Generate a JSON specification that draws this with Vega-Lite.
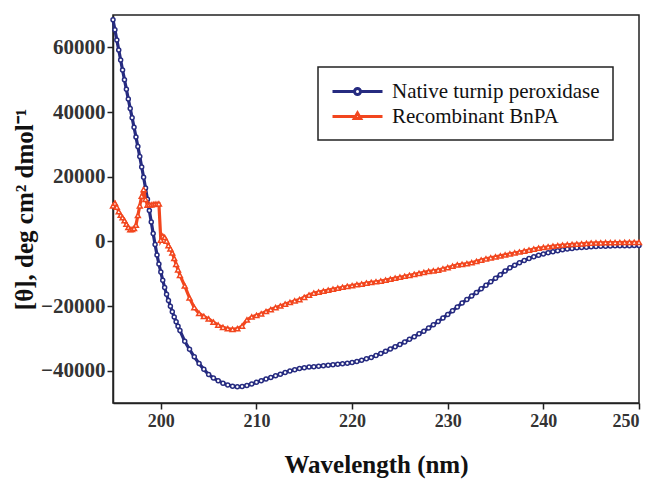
{
  "$schema": "https://vega.github.io/schema/vega-lite/v6.json",
  "width": 526,
  "height": 388,
  "autosize": {"type": "none"},
  "padding": {"left": 113, "top": 15, "right": 16, "bottom": 81},
  "background": "white",
  "config": {
    "view": {"stroke": "#222", "strokeWidth": 1.5},
    "font": "Liberation Serif"
  },
  "data": {
    "values": [
      {"w":195.0,"n":68500,"r":11000},{"w":195.2,"n":65400,"r":11800},{"w":195.4,"n":62300,"r":10600},{"w":195.6,"n":59200,"r":9200},{"w":195.8,"n":56100,"r":8100},
      {"w":196.0,"n":53000,"r":7300},{"w":196.2,"n":50000,"r":6400},{"w":196.4,"n":47000,"r":5300},{"w":196.6,"n":44000,"r":4300},{"w":196.8,"n":41100,"r":3600},
      {"w":197.0,"n":38200,"r":3700},{"w":197.2,"n":35300,"r":4000},{"w":197.4,"n":32300,"r":5000},{"w":197.6,"n":29300,"r":8000},{"w":197.8,"n":26200,"r":11000},
      {"w":198.0,"n":23000,"r":14000},{"w":198.2,"n":19800,"r":16000},{"w":198.4,"n":16500,"r":13000},{"w":198.6,"n":13000,"r":11200},{"w":198.8,"n":9500,"r":11300},
      {"w":199.0,"n":6000,"r":11300},{"w":199.2,"n":2400,"r":11400},{"w":199.4,"n":-1000,"r":11500},{"w":199.6,"n":-4200,"r":11500},{"w":199.8,"n":-7000,"r":11600},
      {"w":200.0,"n":-9500,"r":400},{"w":200.2,"n":-12000,"r":1600},{"w":200.4,"n":-14300,"r":1200},{"w":200.6,"n":-16400,"r":100},{"w":200.8,"n":-18300,"r":-1300},
      {"w":201.0,"n":-20100,"r":-2300},{"w":201.2,"n":-21800,"r":-3600},{"w":201.4,"n":-23400,"r":-5300},{"w":201.6,"n":-24900,"r":-7100},{"w":201.8,"n":-26300,"r":-8800},
      {"w":202.0,"n":-27600,"r":-10500},
      {"w":202.5,"n":-30900,"r":-13800},{"w":203.0,"n":-33400,"r":-17500},{"w":203.5,"n":-35700,"r":-20500},{"w":204.0,"n":-37800,"r":-22300},
      {"w":204.5,"n":-39600,"r":-23200},{"w":205.0,"n":-41200,"r":-24000},{"w":205.5,"n":-42300,"r":-25000},{"w":206.0,"n":-43100,"r":-25900},
      {"w":206.5,"n":-43900,"r":-26600},{"w":207.0,"n":-44400,"r":-27000},{"w":207.5,"n":-44800,"r":-27200},{"w":208.0,"n":-45000,"r":-27000},
      {"w":208.5,"n":-44900,"r":-26200},{"w":209.0,"n":-44600,"r":-24300},{"w":209.5,"n":-44100,"r":-23400},{"w":210.0,"n":-43600,"r":-22900},
      {"w":210.5,"n":-43100,"r":-22400},{"w":211.0,"n":-42600,"r":-21700},{"w":211.5,"n":-42100,"r":-21100},{"w":212.0,"n":-41600,"r":-20500},
      {"w":212.5,"n":-41100,"r":-20000},{"w":213.0,"n":-40600,"r":-19400},{"w":213.5,"n":-40100,"r":-18900},{"w":214.0,"n":-39700,"r":-18400},
      {"w":214.5,"n":-39300,"r":-18000},{"w":215.0,"n":-39100,"r":-17300},{"w":215.5,"n":-38900,"r":-16600},{"w":216.0,"n":-38750,"r":-16000},
      {"w":216.5,"n":-38600,"r":-15700},{"w":217.0,"n":-38450,"r":-15400},{"w":217.5,"n":-38300,"r":-15100},{"w":218.0,"n":-38150,"r":-14800},
      {"w":218.5,"n":-38000,"r":-14500},{"w":219.0,"n":-37850,"r":-14200},{"w":219.5,"n":-37700,"r":-13900},{"w":220.0,"n":-37500,"r":-13700},
      {"w":220.5,"n":-37200,"r":-13400},{"w":221.0,"n":-36800,"r":-13200},{"w":221.5,"n":-36300,"r":-12900},{"w":222.0,"n":-35900,"r":-12700},
      {"w":222.5,"n":-35300,"r":-12500},{"w":223.0,"n":-34700,"r":-12300},{"w":223.5,"n":-34000,"r":-12000},{"w":224.0,"n":-33300,"r":-11700},
      {"w":224.5,"n":-32600,"r":-11400},{"w":225.0,"n":-31900,"r":-11100},{"w":225.5,"n":-31100,"r":-10800},{"w":226.0,"n":-30300,"r":-10500},
      {"w":226.5,"n":-29500,"r":-10200},{"w":227.0,"n":-28600,"r":-9900},{"w":227.5,"n":-27800,"r":-9600},{"w":228.0,"n":-26800,"r":-9300},
      {"w":228.5,"n":-25800,"r":-9100},{"w":229.0,"n":-24800,"r":-8900},{"w":229.5,"n":-23700,"r":-8500},{"w":230.0,"n":-22600,"r":-8100},
      {"w":230.5,"n":-21500,"r":-7700},{"w":231.0,"n":-20300,"r":-7300},{"w":231.5,"n":-19100,"r":-7100},{"w":232.0,"n":-18000,"r":-6900},
      {"w":232.5,"n":-16900,"r":-6600},{"w":233.0,"n":-15800,"r":-6200},{"w":233.5,"n":-14700,"r":-5800},{"w":234.0,"n":-13600,"r":-5400},
      {"w":234.5,"n":-12500,"r":-5100},{"w":235.0,"n":-11400,"r":-4800},{"w":235.5,"n":-10300,"r":-4500},{"w":236.0,"n":-9200,"r":-4200},
      {"w":236.5,"n":-8200,"r":-3900},{"w":237.0,"n":-7400,"r":-3600},{"w":237.5,"n":-6600,"r":-3300},{"w":238.0,"n":-5900,"r":-3000},
      {"w":238.5,"n":-5300,"r":-2700},{"w":239.0,"n":-4800,"r":-2400},{"w":239.5,"n":-4300,"r":-2100},{"w":240.0,"n":-3900,"r":-1900},
      {"w":240.5,"n":-3500,"r":-1700},{"w":241.0,"n":-3200,"r":-1500},{"w":241.5,"n":-2900,"r":-1350},{"w":242.0,"n":-2600,"r":-1200},
      {"w":242.5,"n":-2400,"r":-1050},{"w":243.0,"n":-2200,"r":-950},{"w":243.5,"n":-2000,"r":-850},{"w":244.0,"n":-1900,"r":-750},
      {"w":244.5,"n":-1800,"r":-650},{"w":245.0,"n":-1700,"r":-550},{"w":245.5,"n":-1600,"r":-500},{"w":246.0,"n":-1550,"r":-450},
      {"w":246.5,"n":-1500,"r":-420},{"w":247.0,"n":-1450,"r":-400},{"w":247.5,"n":-1400,"r":-380},{"w":248.0,"n":-1400,"r":-360},
      {"w":248.5,"n":-1350,"r":-340},{"w":249.0,"n":-1350,"r":-320},{"w":249.5,"n":-1300,"r":-300},{"w":250.0,"n":-1300,"r":-300}
    ]
  },
  "transform": [{"fold": ["n", "r"], "as": ["series", "value"]}],
  "encoding": {
    "x": {
      "field": "w", "type": "quantitative",
      "scale": {"domain": [195, 250], "nice": false, "zero": false},
      "axis": {
        "title": "Wavelength (nm)", "values": [200, 210, 220, 230, 240, 250],
        "grid": false, "domainColor": "#222", "domainWidth": 1.5, "tickColor": "#222", "tickWidth": 1.5, "tickSize": 6,
        "labelFont": "Liberation Serif", "labelFontSize": 18, "labelFontWeight": "bold", "labelColor": "#333", "labelPadding": 3,
        "titleFont": "Liberation Serif", "titleFontSize": 25, "titleFontWeight": "bold", "titleColor": "#111",
        "titleY": 49, "titleBaseline": "top"
      }
    },
    "y": {
      "field": "value", "type": "quantitative",
      "scale": {"domain": [-50000, 70000], "nice": false},
      "axis": {
        "title": "[θ], deg cm² dmol⁻¹", "values": [-40000, -20000, 0, 20000, 40000, 60000],
        "format": "d",
        "grid": false, "domainColor": "#222", "domainWidth": 1.5, "tickColor": "#222", "tickWidth": 1.5, "tickSize": 6,
        "labelFont": "Liberation Serif", "labelFontSize": 21, "labelFontWeight": "bold", "labelColor": "#333", "labelPadding": 2,
        "titleFont": "Liberation Serif", "titleFontSize": 25, "titleFontWeight": "bold", "titleColor": "#111",
        "titleX": -89, "titleY": 194, "titleAngle": -90, "titleAlign": "center", "titleBaseline": "middle"
      }
    }
  },
  "layer": [
    {
      "mark": {"type": "line", "strokeWidth": 3.2, "interpolate": "linear"},
      "encoding": {
        "color": {
          "field": "series", "type": "nominal",
          "scale": {"domain": ["n", "r"], "range": ["#262b80", "#f2461e"]},
          "legend": {
            "orient": "none", "legendX": 205, "legendY": 52, "title": null,
            "strokeColor": "#222", "fillColor": "white", "padding": 13,
            "rowPadding": 3, "labelOffset": 38,
            "symbolType": "M-1,0H1.2M1.8,0H4M1.2,0A0.3,0.3 0 1,1 1.8,0A0.3,0.3 0 1,1 1.2,0Z",
            "symbolSize": 400, "symbolStrokeWidth": 3, "symbolFillColor": "white",
            "labelFont": "Liberation Serif", "labelFontSize": 21, "labelColor": "#111", "labelLimit": 400,
            "labelExpr": "datum.value == 'n' ? 'Native turnip peroxidase' : 'Recombinant BnPA'",
            "encode": {
              "legend": {"update": {"strokeWidth": {"value": 1.5}}},
              "symbols": {
                "update": {
                  "shape": {"signal": "datum.value == 'n' ? 'M-1,0H1.2M1.8,0H4M1.2,0A0.3,0.3 0 1,1 1.8,0A0.3,0.3 0 1,1 1.2,0Z' : 'M-1,0H1.2M1.8,0H4M1.5,-0.35L1.82,0.2L1.18,0.2Z'"},
                  "fill": {"value": "white"},
                  "strokeWidth": {"value": 3}
                }
              }
            }
          }
        }
      }
    },
    {
      "transform": [{"filter": "datum.series == 'n'"}],
      "mark": {"type": "point", "shape": "circle", "filled": false, "fill": "white", "stroke": "#262b80", "strokeWidth": 1.5, "size": 16, "opacity": 1}
    },
    {
      "transform": [{"filter": "datum.series == 'r'"}],
      "mark": {"type": "point", "shape": "triangle-up", "filled": false, "fill": "white", "stroke": "#f2461e", "strokeWidth": 1.5, "size": 24, "opacity": 1}
    }
  ]
}
